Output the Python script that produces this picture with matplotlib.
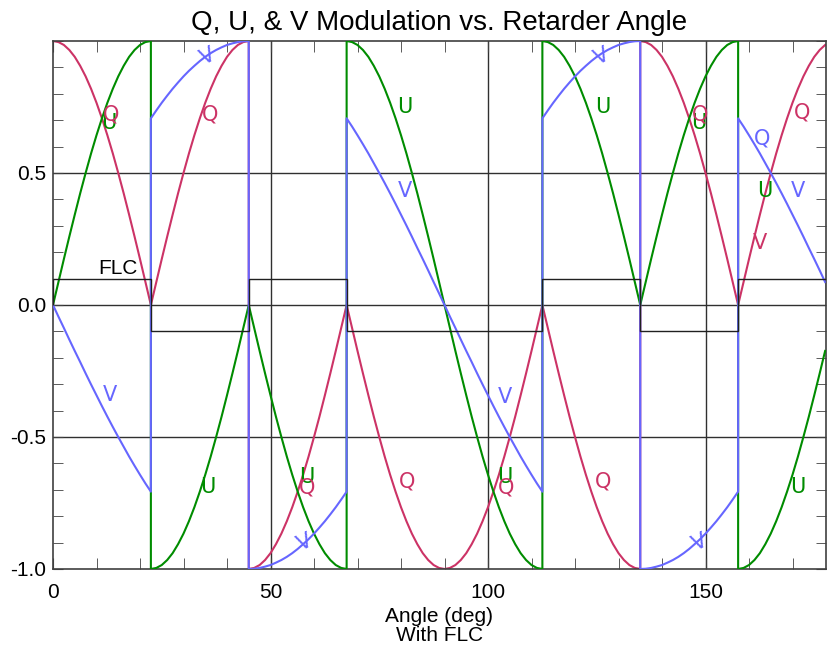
import matplotlib.pyplot as plt
from matplotlib.ticker import MultipleLocator

# retarder angle (deg), switch points repeated so jumps are vertical
angle = [0, 1.25, 2.5, 3.75, 5, 6.25, 7.5, 8.75, 10, 11.25, 12.5, 13.75,
         15, 16.25, 17.5, 18.75, 20, 21.25, 22.5,
         22.5, 23.75, 25, 26.25, 27.5, 28.75, 30, 31.25, 32.5, 33.75, 35,
         36.25, 37.5, 38.75, 40, 41.25, 42.5, 43.75, 45,
         45, 46.25, 47.5, 48.75, 50, 51.25, 52.5, 53.75, 55, 56.25, 57.5,
         58.75, 60, 61.25, 62.5, 63.75, 65, 66.25, 67.5,
         67.5, 68.75, 70, 71.25, 72.5, 73.75, 75, 76.25, 77.5, 78.75, 80,
         81.25, 82.5, 83.75, 85, 86.25, 87.5, 88.75, 90,
         91.25, 92.5, 93.75, 95, 96.25, 97.5, 98.75, 100, 101.25, 102.5,
         103.75, 105, 106.25, 107.5, 108.75, 110, 111.25, 112.5,
         112.5, 113.75, 115, 116.25, 117.5, 118.75, 120, 121.25, 122.5,
         123.75, 125, 126.25, 127.5, 128.75, 130, 131.25, 132.5, 133.75, 135,
         135, 136.25, 137.5, 138.75, 140, 141.25, 142.5, 143.75, 145,
         146.25, 147.5, 148.75, 150, 151.25, 152.5, 153.75, 155, 156.25, 157.5,
         157.5, 158.75, 160, 161.25, 162.5, 163.75, 165, 166.25, 167.5,
         168.75, 170, 171.25, 172.5, 173.75, 175, 176.25, 177.5]

q_mod = [1, .996, .985, .966, .940, .906, .866, .819, .766, .707, .643, .574,
         .5, .423, .342, .259, .174, .087, 0,
         0, .087, .174, .259, .342, .423, .5, .574, .643, .707, .766,
         .819, .866, .906, .940, .966, .985, .996, 1,
         -1, -.996, -.985, -.966, -.940, -.906, -.866, -.819, -.766, -.707, -.643,
         -.574, -.5, -.423, -.342, -.259, -.174, -.087, 0,
         0, -.087, -.174, -.259, -.342, -.423, -.5, -.574, -.643, -.707, -.766,
         -.819, -.866, -.906, -.940, -.966, -.985, -.996, -1,
         -.996, -.985, -.966, -.940, -.906, -.866, -.819, -.766, -.707, -.643,
         -.574, -.5, -.423, -.342, -.259, -.174, -.087, 0,
         0, -.087, -.174, -.259, -.342, -.423, -.5, -.574, -.643,
         -.707, -.766, -.819, -.866, -.906, -.940, -.966, -.985, -.996, -1,
         1, .996, .985, .966, .940, .906, .866, .819, .766,
         .707, .643, .574, .5, .423, .342, .259, .174, .087, 0,
         0, .087, .174, .259, .342, .423, .5, .574, .643,
         .707, .766, .819, .866, .906, .940, .966, .985]

u_mod = [0, .087, .174, .259, .342, .423, .5, .574, .643, .707, .766, .819,
         .866, .906, .940, .966, .985, .996, 1,
         -1, -.996, -.985, -.966, -.940, -.906, -.866, -.819, -.766, -.707, -.643,
         -.574, -.5, -.423, -.342, -.259, -.174, -.087, 0,
         0, -.087, -.174, -.259, -.342, -.423, -.5, -.574, -.643, -.707, -.766,
         -.819, -.866, -.906, -.940, -.966, -.985, -.996, -1,
         1, .996, .985, .966, .940, .906, .866, .819, .766, .707, .643,
         .574, .5, .423, .342, .259, .174, .087, 0,
         -.087, -.174, -.259, -.342, -.423, -.5, -.574, -.643, -.707, -.766,
         -.819, -.866, -.906, -.940, -.966, -.985, -.996, -1,
         1, .996, .985, .966, .940, .906, .866, .819, .766,
         .707, .643, .574, .5, .423, .342, .259, .174, .087, 0,
         0, .087, .174, .259, .342, .423, .5, .574, .643,
         .707, .766, .819, .866, .906, .940, .966, .985, .996, 1,
         -1, -.996, -.985, -.966, -.940, -.906, -.866, -.819, -.766,
         -.707, -.643, -.574, -.5, -.423, -.342, -.259, -.174]

v_mod = [0, -.044, -.087, -.131, -.174, -.216, -.259, -.301, -.342, -.383,
         -.423, -.462, -.5, -.537, -.574, -.609, -.643, -.676, -.707,
         .707, .737, .766, .793, .819, .843, .866, .887, .906, .924, .940,
         .954, .966, .976, .985, .991, .996, .999, 1,
         -1, -.999, -.996, -.991, -.985, -.976, -.966, -.954, -.940, -.924, -.906,
         -.887, -.866, -.843, -.819, -.793, -.766, -.737, -.707,
         .707, .676, .643, .609, .574, .537, .5, .462, .423, .383, .342,
         .301, .259, .216, .174, .131, .087, .044, 0,
         -.044, -.087, -.131, -.174, -.216, -.259, -.301, -.342, -.383, -.423,
         -.462, -.5, -.537, -.574, -.609, -.643, -.676, -.707,
         .707, .737, .766, .793, .819, .843, .866, .887, .906,
         .924, .940, .954, .966, .976, .985, .991, .996, .999, 1,
         -1, -.999, -.996, -.991, -.985, -.976, -.966, -.954, -.940,
         -.924, -.906, -.887, -.866, -.843, -.819, -.793, -.766, -.737, -.707,
         .707, .676, .643, .609, .574, .537, .5, .462, .423,
         .383, .342, .301, .259, .216, .174, .131, .087]

# FLC state between switch angles
flc_edges = [0, 22.5, 45, 67.5, 112.5, 135, 157.5, 177.7]
flc_state = [0.1, -0.1, 0.1, -0.1, 0.1, -0.1, 0.1]

c_q = '#cc3366'
c_u = '#008c00'
c_v = '#6666ff'

# curve labels (text, x, y, colour, rotation)
labels = [
    ('U', 12.9, 0.69, c_u, 0), ('Q', 13.3, 0.72, c_q, 0),
    ('Q', 36.1, 0.72, c_q, 0), ('V', 35.6, 0.94, c_v, 25),
    ('U', 80.9, 0.75, c_u, 0), ('U', 126.4, 0.75, c_u, 0),
    ('V', 80.9, 0.43, c_v, 0), ('V', 13.1, -0.34, c_v, 0),
    ('U', 35.6, -0.69, c_u, 0),
    ('U', 58.4, -0.65, c_u, 0), ('Q', 58.4, -0.69, c_q, 0),
    ('V', 57.9, -0.90, c_v, 25), ('Q', 81.4, -0.67, c_q, 0),
    ('U', 103.9, -0.65, c_u, 0), ('Q', 104.1, -0.69, c_q, 0),
    ('V', 103.9, -0.35, c_v, 0), ('Q', 126.4, -0.67, c_q, 0),
    ('V', 126.2, 0.94, c_v, 25),
    ('U', 148.5, 0.69, c_u, 0), ('Q', 148.7, 0.72, c_q, 0),
    ('Q', 163.0, 0.63, c_v, 0), ('U', 163.7, 0.43, c_u, 0),
    ('V', 171.3, 0.43, c_v, 0), ('V', 162.5, 0.235, c_q, 0),
    ('Q', 172.2, 0.73, c_q, 0), ('V', 148.7, -0.90, c_v, 25),
    ('U', 171.3, -0.69, c_u, 0),
]

plt.rcParams['font.family'] = ['Liberation Sans', 'DejaVu Sans']

fig = plt.figure(figsize=(8.28, 6.49), dpi=100)
ax = fig.add_axes([53 / 828, 80 / 649, 773 / 828, 528 / 649])

# grid lines
for gx in [50, 100, 150]:
    ax.axvline(gx, color='#303030', lw=1.0, zorder=1)
for gy in [-0.5, 0.0, 0.5]:
    ax.axhline(gy, color='#303030', lw=1.0, zorder=1)

ax.plot(angle, q_mod, color=c_q, lw=1.5, zorder=2)
ax.plot(angle, u_mod, color=c_u, lw=1.5, zorder=3)
ax.plot(angle, v_mod, color=c_v, lw=1.5, zorder=4)
ax.stairs(flc_state, flc_edges, color='#202020', lw=1.0, zorder=5)
ax.text(15, 0.14, 'FLC', fontsize=15, ha='center', va='center')

for txt, x, y, col, rot in labels:
    ax.text(x, y, txt, color=col, fontsize=15, ha='center', va='center',
            rotation=rot, family='DejaVu Sans', zorder=6)

ax.set_xlim(0, 177.7)
ax.set_ylim(-1, 1)
ax.set_xticks([0, 50, 100, 150])
ax.set_yticks([-1.0, -0.5, 0.0, 0.5])
ax.set_yticklabels(['-1.0', '-0.5', '0.0', '0.5'])
ax.xaxis.set_minor_locator(MultipleLocator(10))
ax.yaxis.set_minor_locator(MultipleLocator(0.1))
ax.tick_params(which='both', direction='in', top=True, right=True,
               color='#404040', labelsize=15)
ax.tick_params(axis='x', which='major', length=8, pad=10)
ax.tick_params(axis='y', which='major', length=7, pad=5)
ax.tick_params(axis='x', which='minor', length=8)
ax.tick_params(axis='y', which='minor', length=7)
for sp in ax.spines.values():
    sp.set_color('#404040')
    sp.set_linewidth(1.2)

ax.set_xlabel('Angle (deg)\nWith FLC', fontsize=15, linespacing=1.0, labelpad=4)
ax.set_title('Q, U, & V Modulation vs. Retarder Angle', fontsize=20, pad=8)

fig.savefig('out.png', dpi=100)
